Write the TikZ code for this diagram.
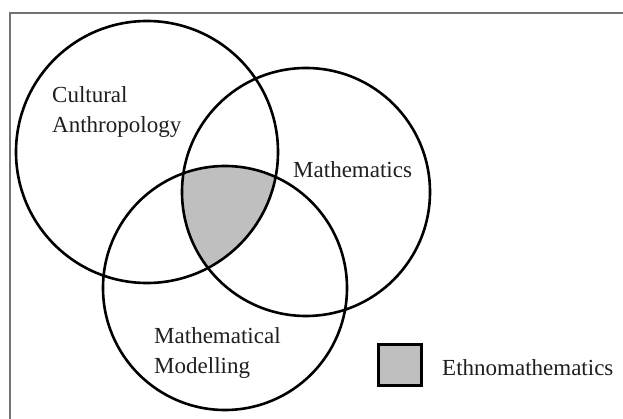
\documentclass[tikz,border=0pt]{standalone}
\usepackage{fontspec}
\setmainfont{Liberation Serif}
\begin{document}
\begin{tikzpicture}[x=1pt,y=-1pt,
  ring/.style={draw=black,line width=2.6pt},
  lbl/.style={font=\fontsize{23}{30}\selectfont,text=black!88,inner sep=0pt,align=left},
  keybox/.style={draw=black,line width=3.6pt,fill=black!25,minimum width=43pt,minimum height=41pt,inner sep=0pt}]
\useasboundingbox (0,0) rectangle (623,419);
\fill[white] (0,0) rectangle (623,419);
% frame
\draw[black!55,line width=1.8pt] (10,425) -- (10,13) -- (630,13);
% shaded intersection
\begin{scope}
  \clip (147,152) circle (131);
  \clip (306,192) circle (124);
  \fill[black!25] (225,288) circle (122);
\end{scope}
\draw[ring] (147,152) circle (131);
\draw[ring] (306,192) circle (124);
\draw[ring] (225,288) circle (122);
\node[lbl,anchor=west] (ca) at (52,112) {Cultural\\Anthropology};
\node[lbl,anchor=west] (m) at (293,170) {Mathematics};
\node[lbl,anchor=west] (mm) at (154,353) {Mathematical\\Modelling};
\node[keybox] (key) at (400,365) {};
\node[lbl,anchor=west] (em) at (442,368) {Ethnomathematics};
\end{tikzpicture}
\end{document}
